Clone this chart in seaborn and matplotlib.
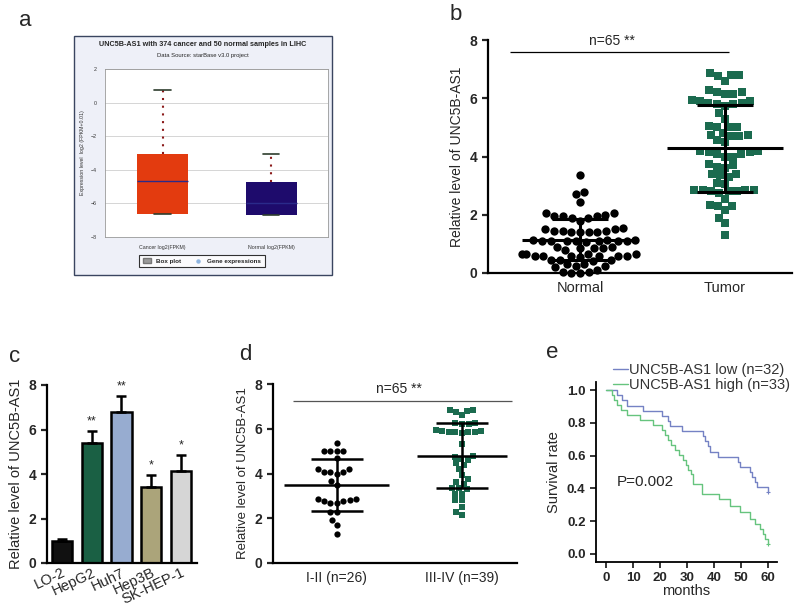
import numpy as np
import pandas as pd
import matplotlib
matplotlib.use('Agg')
import matplotlib.pyplot as plt
import seaborn as sns
from matplotlib.patches import Rectangle, Patch
from matplotlib.lines import Line2D

# panel a: starBase box plot summary
a_labels = ['Cancer log2(FPKM)', 'Normal log2(FPKM)']
a_q1 = [-6.65, -6.7]
a_med = [-4.65, -6.0]
a_q3 = [-3.06, -4.71]
a_whislo = [-6.65, -6.7]
a_whishi = [0.73, -3.06]
a_colors = ['#e33b0f', '#1e0b6c']

# panel b: normal vs tumor tissue
b_groups = ['Normal', 'Tumor']
b_normal = [3.35, 2.78, 2.70, 2.45,
            2.05, 2.05, 2.0,
            1.95, 1.95, 1.9, 1.9, 1.95,
            1.8,
            1.55, 1.5, 1.45, 1.45, 1.4, 1.4, 1.45, 1.4, 1.4, 1.5,
            1.15, 1.1, 1.1, 1.1, 1.15, 1.1, 1.1, 1.05, 1.1, 1.15, 1.1,
            0.9, 0.85, 0.85, 0.9, 0.85, 0.8,
            0.65, 0.6, 0.6, 0.65, 0.6, 0.6, 0.55, 0.6, 0.65, 0.6, 0.65,
            0.45, 0.45, 0.4, 0.45,
            0.3, 0.25, 0.3, 0.25, 0.2,
            0.05, 0.0, 0.05, 0.1, 0.0]
b_tumor = [6.85, 6.8, 6.75, 6.8, 6.6,
           6.2, 6.15, 6.15, 6.2, 6.3,
           5.9, 5.85, 5.8, 5.75, 5.8, 5.85, 5.9, 5.95,
           5.5, 5.3,
           5.0, 5.0, 5.0, 5.05,
           4.75, 4.7, 4.55, 4.75, 4.7, 4.8,
           4.5,
           4.2, 4.15, 4.1, 4.0, 4.0, 4.1, 4.15, 4.2,
           3.65, 3.7, 3.6, 3.75,
           3.4, 3.35, 3.4, 3.3,
           3.1, 3.05,
           2.85, 2.8, 2.85, 2.8, 2.75, 2.8, 2.85, 2.85,
           2.55,
           2.35, 2.3, 2.3,
           2.15, 1.9, 1.7, 1.3]
b_mean = [1.15, 4.28]
b_sd = [0.71, 1.5]

# panel c: cell lines
c_cells = ['LO-2', 'HepG2', 'Huh7', 'Hep3B', 'SK-HEP-1']
c_values = [1.0, 5.4, 6.8, 3.4, 4.15]
c_err = [0.1, 0.55, 0.7, 0.55, 0.7]
c_stars = ['', '**', '**', '*', '*']
c_colors = ['#111111', '#0f6b46', '#8eaad9', '#b3aa72', '#d6d6d6']

# panel d: TNM stage
d_groups = ['I-II (n=26)', 'III-IV (n=39)']
d_early = [5.35, 5.0, 5.0, 5.0, 5.0, 4.7, 4.2, 4.2, 4.05, 4.05, 4.0, 4.05,
           3.65, 3.5, 2.85, 2.75, 2.7, 2.7, 2.75, 2.8, 2.85, 2.3, 2.3,
           1.9, 1.7, 1.3]
d_late = [6.85, 6.8, 6.6, 6.75, 6.85, 6.25, 6.2, 6.25, 6.2,
          5.9, 5.85, 5.85, 5.8, 5.85, 5.85, 5.9, 5.95, 5.3,
          4.8, 4.75, 4.6, 4.4, 4.65, 4.45, 4.2, 3.95, 3.75, 3.6, 3.55,
          3.35, 3.35, 3.3, 3.1, 3.1, 2.8, 2.8, 2.5, 2.3, 2.15]
d_mean = [3.5, 4.8]
d_sd = [1.16, 1.46]

# panel e: Kaplan-Meier steps
e_low_t = [0, 4.2, 6, 7.6, 13.8, 20.6, 23, 23.7, 28, 36, 36.8, 37.8, 38.6,
           41.5, 49, 49.6, 53.3, 54.2, 55, 55.8, 60]
e_low_s = [1.0, 0.969, 0.938, 0.906, 0.875, 0.844, 0.813, 0.781, 0.75, 0.719,
           0.688, 0.656, 0.625, 0.594, 0.563, 0.531, 0.5, 0.469, 0.438, 0.406, 0.375]
e_high_t = [0, 2.1, 3, 4, 5.5, 7.7, 12.6, 17.5, 20.6, 21.9, 23, 24, 25.5, 27,
            28.6, 29.5, 30.5, 31.5, 32.3, 35.5, 42, 46, 49.6, 53.3, 55, 57, 58, 59, 60]
e_high_s = [1.0, 0.97, 0.939, 0.909, 0.879, 0.848, 0.818, 0.788, 0.758, 0.727,
            0.697, 0.667, 0.636, 0.606, 0.576, 0.545, 0.515, 0.485, 0.424, 0.364,
            0.333, 0.293, 0.253, 0.212, 0.182, 0.152, 0.121, 0.091, 0.061]
e_labels = ['UNC5B-AS1 low (n=32)', 'UNC5B-AS1 high (n=33)']
e_colors = ['#7582c4', '#66c47e']

sns.set_style('ticks')
plt.rcParams['font.family'] = ['Liberation Sans', 'DejaVu Sans']

W, H = 800, 609
fig = plt.figure(figsize=(8, 6.09), dpi=100)


def box(x0, y0, x1, y1):
    return [x0 / W, 1 - y1 / H, (x1 - x0) / W, (y1 - y0) / H]


def style_prism(ax, lw=1.6):
    sns.despine(ax=ax)
    for s in ['left', 'bottom']:
        ax.spines[s].set_linewidth(lw)
        ax.spines[s].set_color('black')
    ax.tick_params(axis='y', width=lw, length=4, labelsize=10)
    for t in ax.get_yticklabels():
        t.set_fontweight('bold')


# ---------- a ----------
fig.patches.append(Rectangle((74 / W, 1 - 275 / H), 258 / W, 239 / H,
                             transform=fig.transFigure, facecolor='#eef0f8',
                             edgecolor='#3a4560', lw=1.0, zorder=-1))
ax_a = fig.add_axes(box(105, 69, 328, 237))
stats = [dict(label=a_labels[i], q1=a_q1[i], med=a_med[i], q3=a_q3[i],
              whislo=a_whislo[i], whishi=a_whishi[i]) for i in range(2)]
bp = ax_a.bxp(stats, positions=[0, 1], widths=0.47, patch_artist=True,
              showfliers=False, capwidths=0.15,
              boxprops=dict(lw=0),
              whiskerprops=dict(color='#8b1a1a', ls=(0, (1, 2.7)), lw=1.5),
              capprops=dict(color='#2d3d2d', lw=1.2),
              medianprops=dict(color='#2a2a8a', lw=1))
for p, c in zip(bp['boxes'], a_colors):
    p.set_facecolor(c)
ax_a.set_xlim(-0.53, 1.525)
ax_a.set_ylim(-8, 2)
ax_a.set_yticks([-8, -6, -4, -2, 0, 2])
ax_a.yaxis.grid(True, color='#cfcfcf', lw=0.6)
ax_a.set_axisbelow(True)
ax_a.tick_params(labelsize=3.8, length=0, pad=6, colors='#333333')
ax_a.set_ylabel('Expression level  log2 (FPKM+0.01)', fontsize=3.8, color='#333333')
for s in ax_a.spines.values():
    s.set_color('#999999')
    s.set_linewidth(0.6)
fig.text(203 / W, 1 - 45 / H, 'UNC5B-AS1 with 374 cancer and 50 normal samples in LIHC',
         ha='center', va='center', fontsize=5.2, fontweight='bold')
fig.text(203 / W, 1 - 55 / H, 'Data Source: starBase v3.0 project',
         ha='center', va='center', fontsize=4.2)
ax_a.legend(handles=[Patch(facecolor='#9a9a9a', edgecolor='#777777'),
                     Line2D([], [], marker='o', ls='', color='#8fb5e0', markersize=2.2)],
            labels=['Box plot', 'Gene expressions'], loc='center',
            bbox_to_anchor=(202 / W, 1 - 261 / H), bbox_transform=fig.transFigure,
            ncol=2, prop={'size': 4.5, 'weight': 'bold'}, frameon=True,
            edgecolor='black', fancybox=False, handlelength=1.2, columnspacing=2.2,
            borderpad=0.6)
ax_a.get_legend().get_frame().set_linewidth(0.8)

# ---------- b ----------
ax_b = fig.add_axes(box(488, 40, 792, 273))
df_b = pd.DataFrame({'group': ['Normal'] * len(b_normal) + ['Tumor'] * len(b_tumor),
                     'level': b_normal + b_tumor})
sns.swarmplot(data=df_b[df_b.group == 'Normal'], x='group', y='level', order=b_groups,
              color='black', marker='o', size=6, ax=ax_b, clip_on=False)
sns.swarmplot(data=df_b[df_b.group == 'Tumor'], x='group', y='level', order=b_groups,
              color='#1b6b4f', marker='s', size=5.8, ax=ax_b, clip_on=False)
ax_b.errorbar([0, 1], b_mean, yerr=b_sd, fmt='none', ecolor='black', elinewidth=2.2,
              capsize=20, capthick=2.2, zorder=5)
ax_b.hlines(b_mean, [-0.4, 0.6], [0.4, 1.4], color='black', lw=2.2, zorder=5)
ax_b.hlines(7.6, -0.48, 1.03, color='black', lw=0.9)
ax_b.text(0.22, 7.72, 'n=65 **', ha='center', va='bottom', fontsize=10)
ax_b.set_xlim(-0.634, 1.462)
ax_b.set_ylim(0, 8)
ax_b.set_yticks([0, 2, 4, 6, 8])
ax_b.set_xlabel('')
ax_b.set_ylabel('Relative level of UNC5B-AS1', fontsize=10)
style_prism(ax_b)
ax_b.tick_params(axis='x', length=0, labelsize=10.5, pad=6)

# ---------- c ----------
ax_c = fig.add_axes(box(47, 385, 197, 563))
df_c = pd.DataFrame({'cell': c_cells, 'value': c_values})
sns.barplot(data=df_c, x='cell', y='value', hue='cell', palette=c_colors,
            edgecolor='black', linewidth=1.8, width=0.68, errorbar=None,
            legend=False, ax=ax_c)
ax_c.errorbar(range(len(c_cells)), c_values, yerr=[np.zeros(len(c_err)), c_err],
              fmt='none', ecolor='black', elinewidth=1.8, capsize=3.5, capthick=1.8)
for i, s in enumerate(c_stars):
    if s:
        ax_c.text(i, c_values[i] + c_err[i] + 0.15, s, ha='center', va='bottom', fontsize=9)
ax_c.set_xlim(-0.5, 4.54)
ax_c.set_ylim(0, 8)
ax_c.set_yticks([0, 2, 4, 6, 8])
ax_c.set_xlabel('')
ax_c.set_ylabel('Relative level of UNC5B-AS1', fontsize=10.5)
style_prism(ax_c)
ax_c.tick_params(axis='x', length=0, labelsize=10.5, pad=2)
for t in ax_c.get_xticklabels():
    t.set_rotation(25)
    t.set_ha('right')
    t.set_rotation_mode('anchor')

# ---------- d ----------
ax_d = fig.add_axes(box(273, 384, 517, 563))
df_d = pd.DataFrame({'stage': [d_groups[0]] * len(d_early) + [d_groups[1]] * len(d_late),
                     'level': d_early + d_late})
sns.swarmplot(data=df_d[df_d.stage == d_groups[0]], x='stage', y='level', order=d_groups,
              color='black', marker='o', size=4.5, ax=ax_d)
sns.swarmplot(data=df_d[df_d.stage == d_groups[1]], x='stage', y='level', order=d_groups,
              color='#1b6b4f', marker='s', size=4.5, ax=ax_d)
ax_d.errorbar([0, 1], d_mean, yerr=d_sd, fmt='none', ecolor='black', elinewidth=1.8,
              capsize=19, capthick=1.8, zorder=5)
ax_d.hlines(d_mean, [-0.42, 0.64], [0.42, 1.36], color='black', lw=1.8, zorder=5)
ax_d.hlines(7.26, -0.35, 1.4, color='#555555', lw=0.9)
ax_d.text(0.5, 7.45, 'n=65 **', ha='center', va='bottom', fontsize=10)
ax_d.set_xlim(-0.51, 1.44)
ax_d.set_ylim(0, 8)
ax_d.set_yticks([0, 2, 4, 6, 8])
ax_d.set_xlabel('')
ax_d.set_ylabel('Relative level of UNC5B-AS1', fontsize=9.5)
style_prism(ax_d)
ax_d.tick_params(axis='x', length=0, labelsize=10, pad=6)

# ---------- e ----------
ax_e = fig.add_axes(box(596, 382, 777, 562))
for t, s, lab, c in [(e_low_t, e_low_s, e_labels[0], e_colors[0]),
                     (e_high_t, e_high_s, e_labels[1], e_colors[1])]:
    sns.lineplot(x=t, y=s, drawstyle='steps-post', color=c, lw=1.0,
                 estimator=None, label=lab, ax=ax_e)
    sns.scatterplot(x=t[-1:], y=s[-1:], marker='+', color=c, s=12, linewidth=0.8, ax=ax_e)
ax_e.set_xlim(-3.7, 63.3)
ax_e.set_ylim(-0.05, 1.05)
ax_e.set_xticks([0, 10, 20, 30, 40, 50, 60])
ax_e.set_yticks([0.0, 0.2, 0.4, 0.6, 0.8, 1.0])
ax_e.set_yticklabels(['0.0', '0.2', '0.4', '0.6', '0.8', '1.0'])
ax_e.set_xlabel('months', fontsize=10.5, labelpad=0)
ax_e.set_ylabel('Survival rate', fontsize=10.5)
ax_e.text(14.5, 0.44, 'P=0.002', ha='center', va='center', fontsize=11)
style_prism(ax_e, lw=1.3)
ax_e.tick_params(axis='x', width=1.3, length=4, labelsize=9.5)
ax_e.tick_params(axis='y', labelsize=9.5)
for t in ax_e.get_xticklabels():
    t.set_fontweight('bold')
leg = ax_e.legend(loc='upper left', bbox_to_anchor=(613 / W, 1 - 363 / H),
                  bbox_transform=fig.transFigure, frameon=False, fontsize=10.5,
                  handlelength=1.0, handletextpad=0.1, labelspacing=0.05,
                  borderpad=0, borderaxespad=0)
for txt in leg.get_texts():
    txt.set_color('#333333')

# panel letters
for letter, x, y in [('a', 25, 20), ('b', 456, 14), ('c', 15, 357),
                     ('d', 245, 355), ('e', 552, 353)]:
    fig.text(x / W, 1 - y / H, letter, ha='center', va='center', fontsize=16)

fig.savefig('out.png', dpi=100)
